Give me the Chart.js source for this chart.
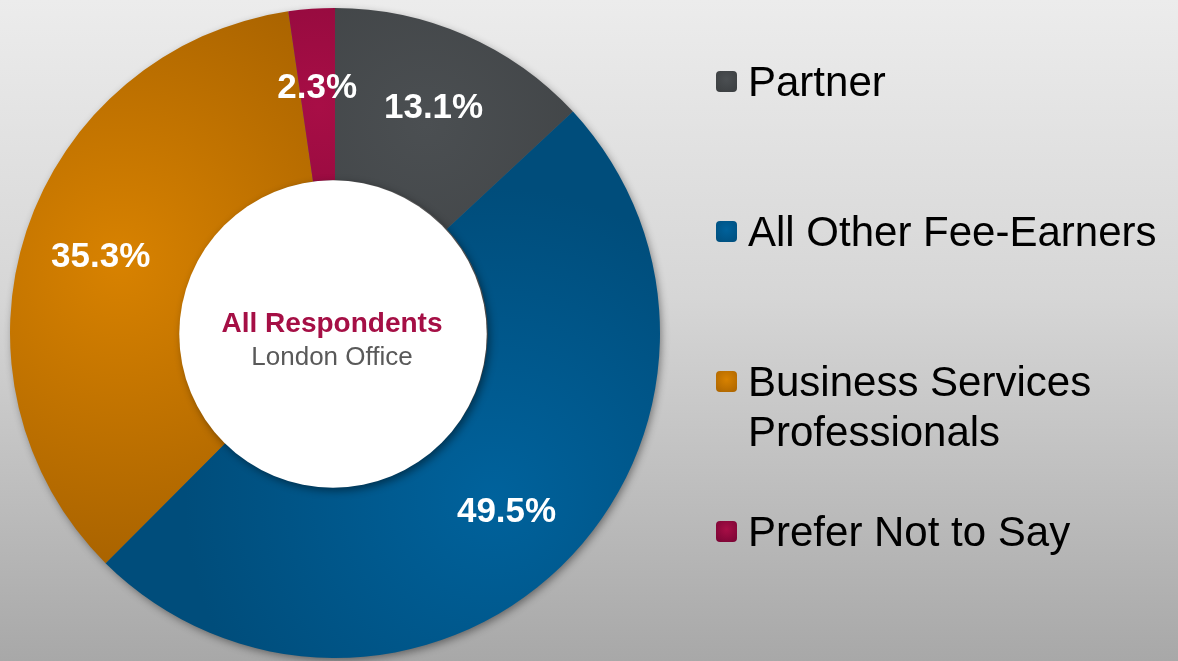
<!DOCTYPE html>
<html>
<head>
<meta charset="utf-8">
<script src="https://cdn.jsdelivr.net/npm/chart.js@4.4.1/dist/chart.umd.min.js"></script>
<style>
  html, body { margin: 0; padding: 0; }
  body {
    width: 1178px; height: 661px; overflow: hidden; position: relative;
    background: linear-gradient(to bottom, #ececec 0%, #d6d6d6 45%, #a8a8a8 100%);
    font-family: "Liberation Sans", Arial, Helvetica, sans-serif;
  }
  #wrap { position: absolute; left: 0; top: 0; width: 1178px; height: 661px; }
  #legend { position: absolute; left: 716px; top: 57px; width: 462px; height: 600px; }
  .item { position: absolute; left: 0; padding-left: 32px; font-size: 42px; line-height: 50px; color: #000; width: 420px; }
  .mk { position: absolute; left: 0; top: 14px; width: 21px; height: 21px; border-radius: 4px; }
</style>
</head>
<body>
<div id="wrap"><canvas id="c"></canvas></div>
<div id="legend"></div>
<script>
const categories = ['Partner', 'All Other Fee-Earners', 'Business Services Professionals', 'Prefer Not to Say'];
const values = [13.1, 49.5, 35.3, 2.3];
const lightColors = ['#4b4f52', '#00629c', '#d88200', '#a80e46'];
const darkColors  = ['#3a3d3f', '#004d7b', '#a96300', '#760433'];
const centerTitle = 'All Respondents';
const centerSub = 'London Office';
const FONT = '"Liberation Sans", Arial, Helvetica, sans-serif';

function sliceFill(ctx) {
  const chart = ctx.chart;
  const a = chart.chartArea;
  const i = ctx.dataIndex;
  if (!a || i === undefined) return lightColors[i || 0];
  const total = values.reduce((s, v) => s + v, 0);
  let before = 0;
  for (let k = 0; k < i; k++) before += values[k];
  const mid = ((before + values[i] / 2) / total) * 2 * Math.PI - Math.PI / 2;
  const cx = (a.left + a.right) / 2, cy = (a.top + a.bottom) / 2;
  const R = Math.min(a.width, a.height) / 2;
  const gx = cx + Math.cos(mid) * R * 0.7, gy = cy + Math.sin(mid) * R * 0.7;
  const g = chart.ctx.createRadialGradient(gx, gy, 0, gx, gy, R * 0.95);
  g.addColorStop(0, lightColors[i]);
  g.addColorStop(1, darkColors[i]);
  return g;
}

const decor = {
  id: 'decor',
  beforeDatasetsDraw(chart) {
    const meta = chart.getDatasetMeta(0);
    const arc = meta.data[0];
    if (!arc) return;
    const { x, y, outerRadius } = arc.getProps(['x', 'y', 'outerRadius'], true);
    const c = chart.ctx;
    c.save();
    c.shadowColor = 'rgba(0,0,0,0.45)';
    c.shadowBlur = 8;
    c.shadowOffsetX = 2;
    c.shadowOffsetY = 3;
    c.fillStyle = '#666';
    c.beginPath();
    c.arc(x, y, outerRadius - 1, 0, Math.PI * 2);
    c.fill();
    c.restore();
  },
  afterDatasetsDraw(chart) {
    const meta = chart.getDatasetMeta(0);
    const c = chart.ctx;
    const first = meta.data[0];
    if (!first) return;
    const { x, y, innerRadius } = first.getProps(['x', 'y', 'innerRadius'], true);
    c.save();
    c.shadowColor = 'rgba(0,0,0,0.45)';
    c.shadowBlur = 8;
    c.shadowOffsetX = 3;
    c.shadowOffsetY = 3;
    c.fillStyle = '#ffffff';
    c.beginPath();
    c.arc(x - 2, y + 1, innerRadius + 1, 0, Math.PI * 2);
    c.fill();
    c.restore();
    c.save();
    c.textAlign = 'center';
    c.textBaseline = 'middle';
    c.fillStyle = '#a50f45';
    c.font = 'bold 28px ' + FONT;
    c.fillText(centerTitle, x - 3, y - 9);
    c.fillStyle = '#595959';
    c.font = '26px ' + FONT;
    c.fillText(centerSub, x - 3, y + 25);
    c.fillStyle = '#ffffff';
    c.font = 'bold 35px ' + FONT;
    meta.data.forEach((arc, i) => {
      const p = arc.getProps(['x', 'y', 'startAngle', 'endAngle', 'innerRadius', 'outerRadius'], true);
      const mid = (p.startAngle + p.endAngle) / 2;
      const r = (p.innerRadius + p.outerRadius) / 2 + 8;
      c.fillText(values[i].toFixed(1) + '%', p.x + Math.cos(mid) * r, p.y + Math.sin(mid) * r + 2);
    });
    c.restore();
  }
};

new Chart(document.getElementById('c'), {
  type: 'doughnut',
  data: {
    labels: categories,
    datasets: [{
      data: values,
      backgroundColor: sliceFill,
      borderWidth: 0,
      hoverOffset: 0
    }]
  },
  options: {
    responsive: true,
    maintainAspectRatio: false,
    animation: false,
    cutout: '47%',
    layout: { padding: { left: 10, top: 8, right: 518, bottom: 3 } },
    plugins: { legend: { display: false }, tooltip: { enabled: false } }
  },
  plugins: [decor]
});

const lg = document.getElementById('legend');
categories.forEach((name, i) => {
  const it = document.createElement('div');
  it.className = 'item';
  it.style.top = (i * 150) + 'px';
  const mk = document.createElement('span');
  mk.className = 'mk';
  mk.style.background = 'radial-gradient(circle at 50% 40%, ' + lightColors[i] + ' 0%, ' + darkColors[i] + ' 100%)';
  it.appendChild(mk);
  it.appendChild(document.createTextNode(name));
  lg.appendChild(it);
});
</script>
</body>
</html>
